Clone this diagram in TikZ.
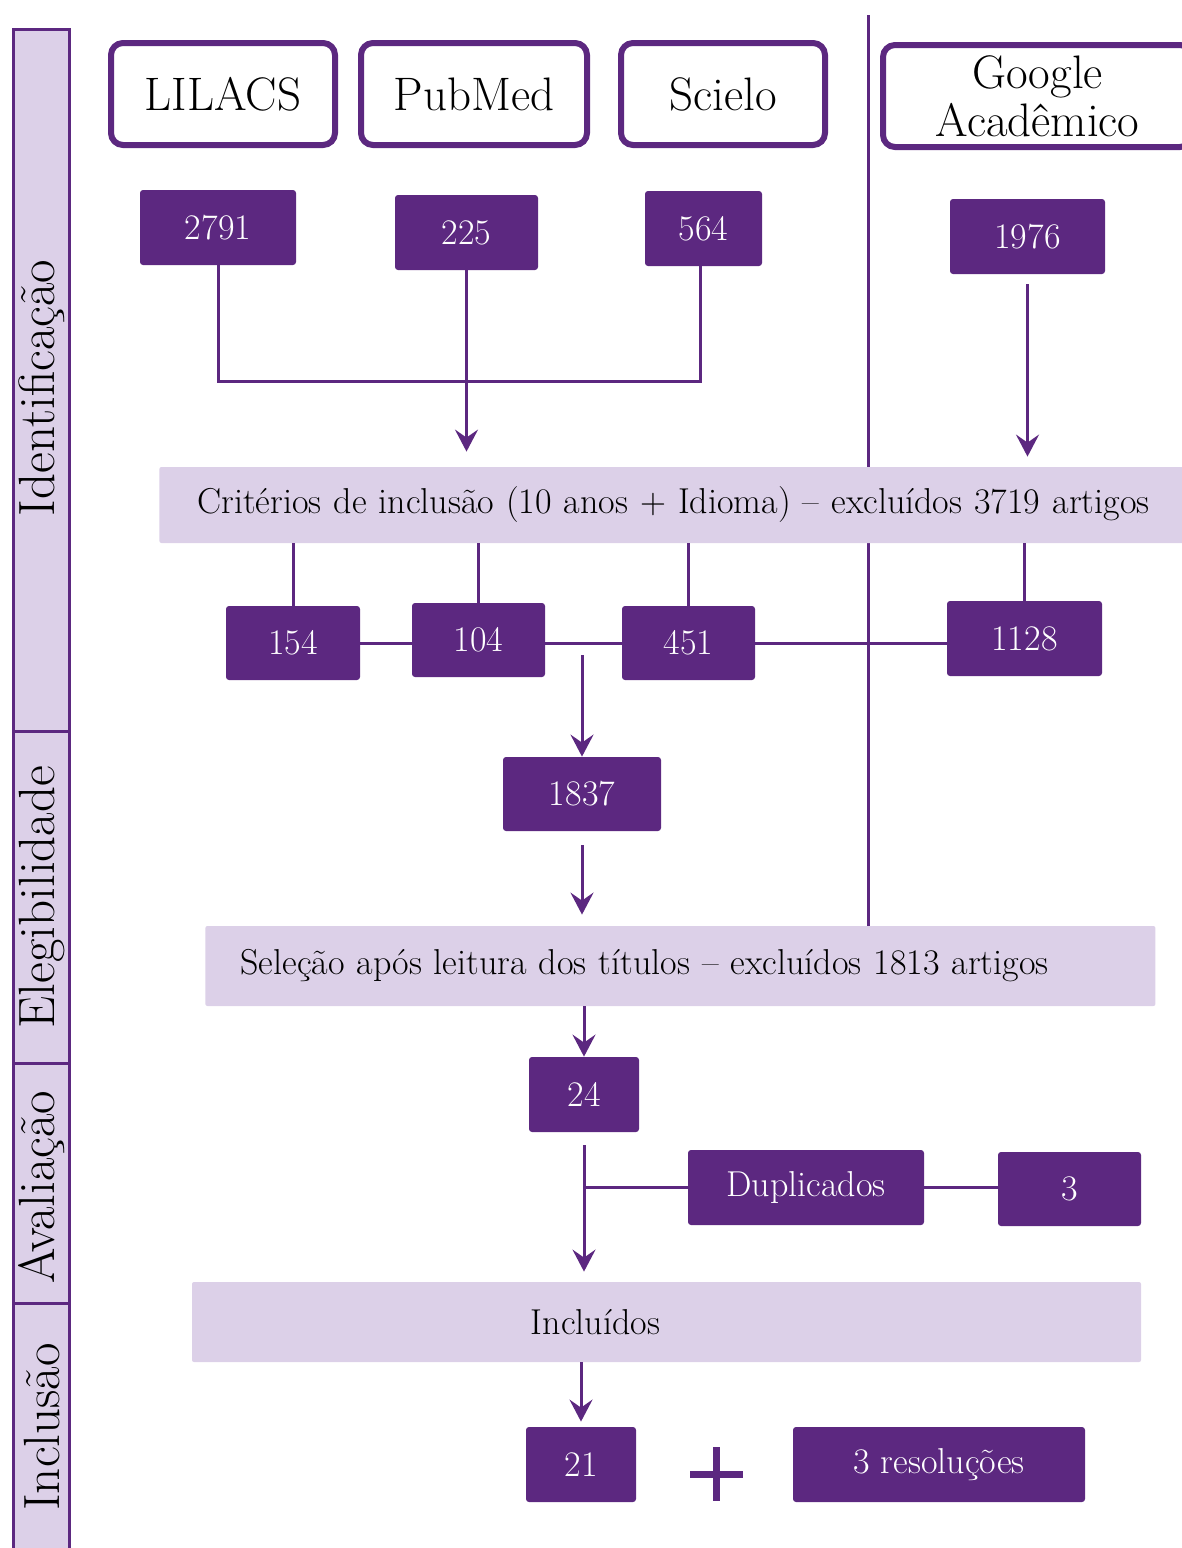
\documentclass[tikz,border=0pt]{standalone}
\usetikzlibrary{arrows.meta}
\definecolor{roxo}{RGB}{92,40,128}
\definecolor{lilas}{RGB}{220,208,232}

\begin{document}
\begin{tikzpicture}[x=0.5pt, y=-0.5pt]
  \useasboundingbox (0,0) rectangle (1182,1548);
  \tikzstyle{fase} = [draw=roxo, fill=lilas, line width=1.5pt]
  \tikzstyle{fasetxt} = [rotate=90, inner sep=0pt, font=\fontsize{25.5}{28}\selectfont]
  \tikzstyle{base} = [draw=roxo, line width=3pt, rounded corners=6pt, fill=white, inner sep=0pt, align=center, font=\fontsize{23.5}{24}\selectfont]
  \tikzstyle{num} = [fill=roxo, rounded corners=1.5pt, inner sep=0pt, text=white, font=\fontsize{18}{20}\selectfont]
  \tikzstyle{etapa} = [fill=lilas, rounded corners=1pt, inner xsep=0pt, font=\fontsize{18}{20}\selectfont]
  \tikzstyle{conn} = [draw=roxo, line width=1.5pt]
  \tikzstyle{seta} = [conn, -{Stealth[length=11pt, width=11.5pt, inset=4pt]}]

  % faixa lateral
  \draw[fase] (13,29) rectangle (69,731);
  \draw[fase] (13,731) rectangle (69,1063);
  \draw[fase] (13,1063) rectangle (69,1303);
  \draw[fase] (13,1303) rectangle (69,1570);
  \node[fasetxt] (ident) at (42,388) {Identificação};
  \node[fasetxt] (eleg) at (42,897) {Elegibilidade};
  \node[fasetxt] (aval) at (42,1187) {Avaliação};
  \node[fasetxt] (incl-fase) at (42,1427) {Inclusão};

  % linha divisoria
  \coordinate (topo) at (868,15);
  \coordinate (fundo) at (868,926);
  \draw[conn] (topo) -- (fundo);

  % bases
  \node[base, minimum width=112pt, minimum height=51pt] (lilacs) at (223,94) {LILACS};
  \node[base, minimum width=113pt, minimum height=51pt] (pubmed) at (474,94) {PubMed};
  \node[base, minimum width=102pt, minimum height=51pt] (scielo) at (723,94) {Scielo};
  \node[base, minimum width=154.5pt, minimum height=51pt] (google) at (1037.5,96) {Google\\Acadêmico};

  \node[num, minimum width=78pt, minimum height=37.5pt] (n2791) at (218,227.5) {2791};
  \node[num, minimum width=71.5pt, minimum height=37.5pt] (n225) at (466.5,232.5) {225};
  \node[num, minimum width=58.5pt, minimum height=37.5pt] (n564) at (703.5,228.5) {564};
  \node[num, minimum width=77.5pt, minimum height=37.5pt] (n1976) at (1027.5,236.5) {1976};

  \coordinate (junta) at (700,381);
  \draw[conn] (n2791) |- (junta) -- (junta |- n564.south);

  \node[etapa, anchor=west, inner xsep=19pt, text width=480pt, align=left, minimum height=38pt] (crit) at (159,505)
    {\mbox{Critérios de inclusão (10 anos + Idioma) -- excluídos 3719 artigos}};

  \draw[seta, shorten >=7.5pt] (n225) -- (n225 |- crit.north);
  \draw[seta, shorten <=5pt, shorten >=5pt] (n1976) -- (n1976 |- crit.north);

  \node[num, minimum width=67pt, minimum height=37pt] (n154) at (293,643) {154};
  \node[num, minimum width=66.5pt, minimum height=37pt] (n104) at (478.5,640) {104};
  \node[num, minimum width=66.5pt, minimum height=37pt] (n451) at (688.5,643) {451};
  \node[num, minimum width=77.5pt, minimum height=37.5pt] (n1128) at (1024.5,638.5) {1128};

  \draw[conn] (crit.south -| n154) -- (n154);
  \draw[conn] (crit.south -| n104) -- (n104);
  \draw[conn] (crit.south -| n451) -- (n451);
  \draw[conn] (crit.south -| n1128) -- (n1128);
  \draw[conn] (n154.east) -- (n154.east -| n104.west);
  \draw[conn] (n451.west) -- (n451.west -| n104.east);
  \draw[conn] (n451.east) -- (n451.east -| n1128.west);

  \node[num, minimum width=79pt, minimum height=37pt] (n1837) at (582,794) {1837};
  \coordinate (desce) at (582,655);
  \draw[seta] (desce) -- (n1837);

  \node[etapa, anchor=west, inner xsep=17.5pt, text width=440pt, align=left, minimum height=40pt] (sel) at (205,966)
    {\mbox{Seleção após leitura dos títulos -- excluídos 1813 artigos}};
  \draw[seta, shorten <=7pt, shorten >=5.5pt] (n1837) -- (n1837 |- sel.north);

  \node[num, minimum width=55pt, minimum height=37.5pt] (n24) at (584,1094.5) {24};
  \draw[seta] (sel.south -| n24) -- (n24);

  \node[num, minimum width=118pt, minimum height=37.5pt] (dup) at (806,1187.5) {Duplicados};
  \node[num, minimum width=71.5pt, minimum height=37pt] (n3) at (1069.5,1189) {3};
  \draw[conn] (dup.east) -- (dup.east -| n3.west);

  \node[etapa, minimum width=474.5pt, minimum height=40pt, label={[font=\fontsize{18}{20}\selectfont, xshift=-35.5pt]center:Incluídos}] (incl) at (666.5,1322) {};
  \draw[seta, shorten <=6.5pt, shorten >=5pt] (n24) -- (n24 |- incl.north);
  \draw[conn] (n24 |- dup) -- (dup);

  \node[num, minimum width=55pt, minimum height=37.5pt] (n21) at (581,1464.5) {21};
  \node[num, minimum width=146pt, minimum height=37.5pt] (res) at (939,1464.5) {3 resoluções};
  \draw[seta, shorten >=2.5pt] (incl.south -| n21) -- (n21);

  % sinal de mais
  \draw[roxo, line width=3.5pt] (690,1474) -- (743,1474) (716,1447) -- (716,1501);
\end{tikzpicture}
\end{document}
